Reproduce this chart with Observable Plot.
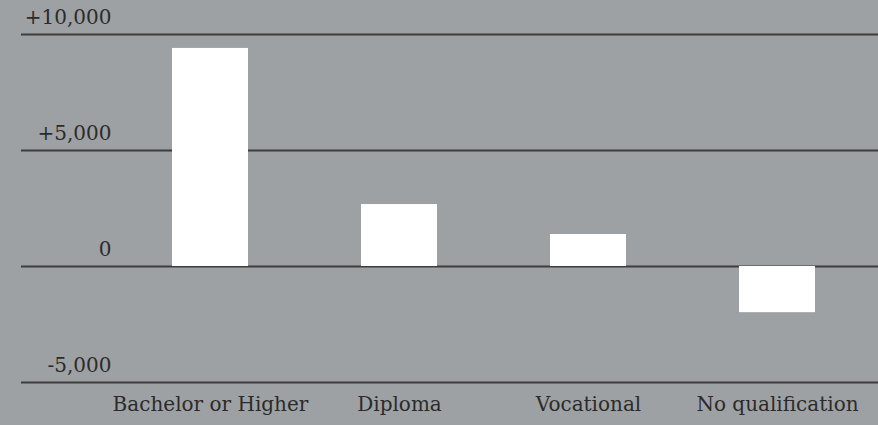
<!DOCTYPE html>
<html>
<head>
<meta charset="utf-8">
<script src="https://cdn.jsdelivr.net/npm/d3@7"></script>
<script src="https://cdn.jsdelivr.net/npm/@observablehq/plot@0.6"></script>
<style>
  html, body { margin: 0; padding: 0; background: #9ea1a4; }
  #chart svg { display: block; }
</style>
</head>
<body>
<div id="chart"></div>
<script>
const categories = ["Bachelor or Higher", "Diploma", "Vocational", "No qualification"];
const values = [9400, 2670, 1380, -1990];
const yTicks = [-5000, 0, 5000, 10000];

const data = categories.map((c, i) => ({category: c, value: values[i]}));
const fmt = d3.formatLocale({thousands: ",", grouping: [3], currency: ["", ""], minus: "-"}).format(",");

const chart = Plot.plot({
  width: 878,
  height: 425,
  marginTop: 34,
  marginBottom: 43,
  marginLeft: 21,
  marginRight: 0,
  style: {background: "#9ea1a4", fontFamily: "'DejaVu Serif', Georgia, serif", fontSize: "20px", color: "#2b2b2b"},
  x: {domain: categories, paddingInner: 0.6, paddingOuter: 0.566, align: 0.706, label: null},
  y: {domain: [-5000, 10000], label: null},
  marks: [
    Plot.ruleY(yTicks, {stroke: "#3d3d3d", strokeWidth: 2}),
    Plot.barY(data, {x: "category", y: "value", fill: "white"}),
    Plot.axisY(yTicks, {anchor: "left", tickSize: 0, tickPadding: 0, dx: 90, dy: -17, textAnchor: "end",
      tickFormat: d => d > 0 ? "+" + fmt(d) : fmt(d), label: null, fill: "#2b2b2b"}),
    Plot.axisX({anchor: "bottom", tickSize: 0, tickPadding: 14, label: null, fill: "#2b2b2b"})
  ]
});
document.getElementById("chart").appendChild(chart);
</script>
</body>
</html>
